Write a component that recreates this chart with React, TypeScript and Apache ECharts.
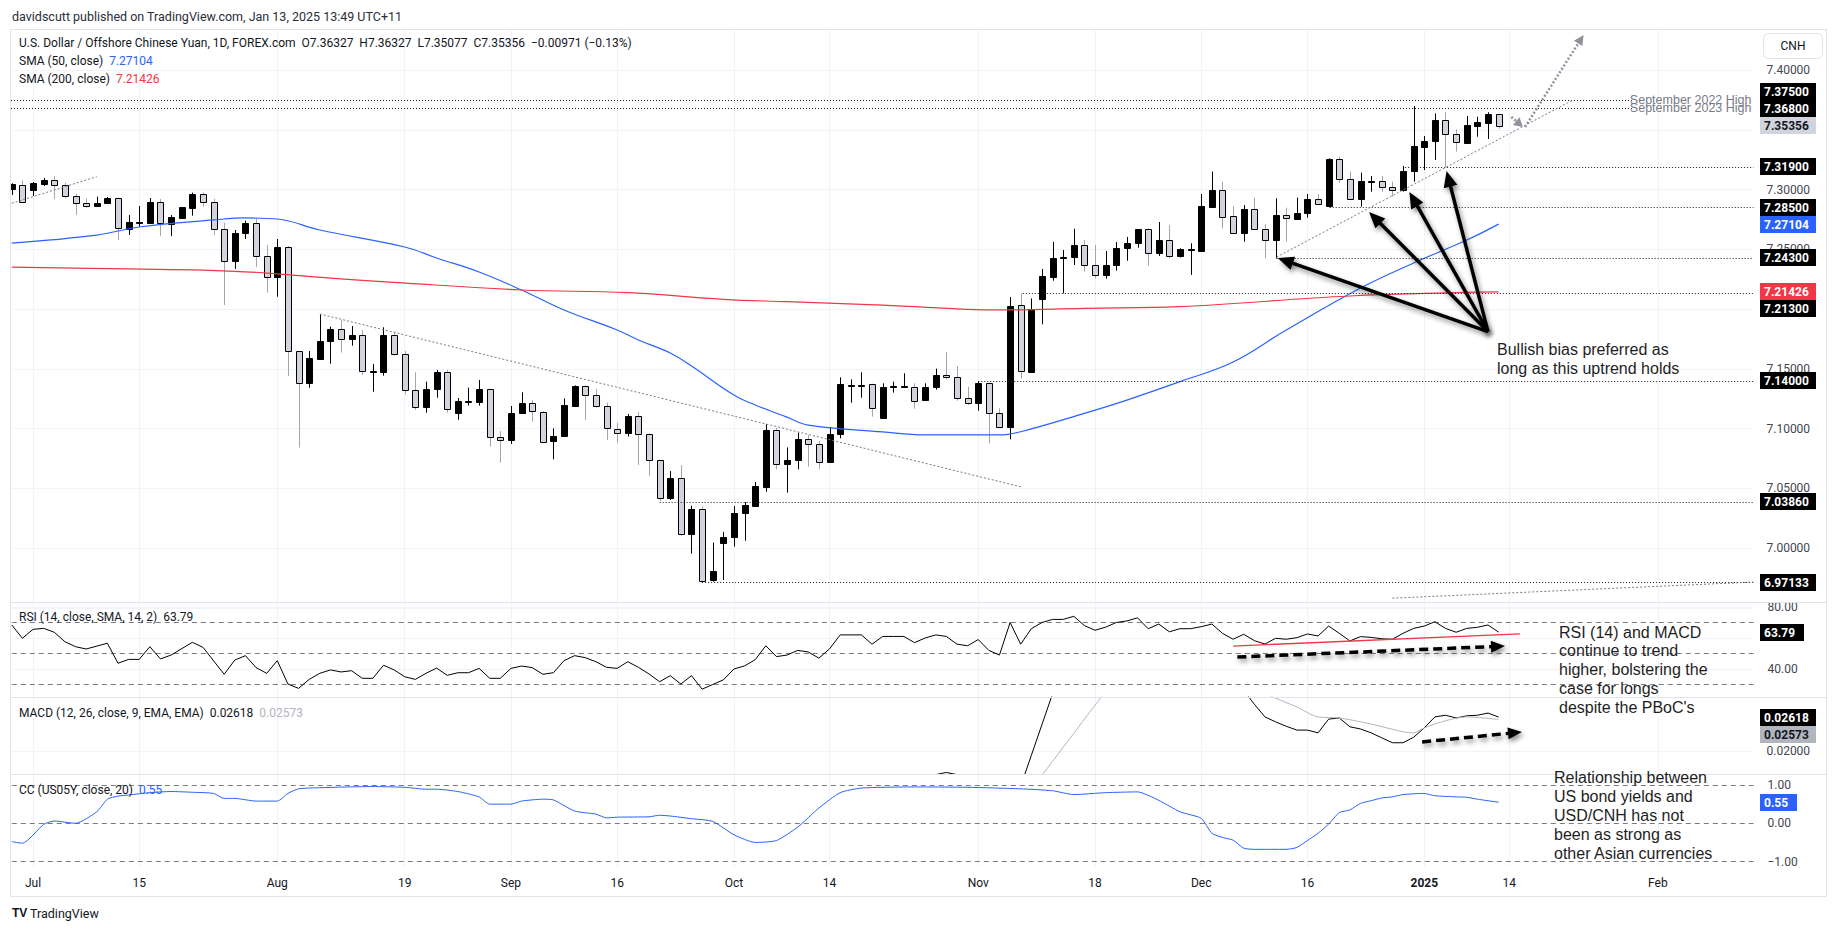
import React, { useEffect, useRef } from "react";
import * as echarts from "echarts";

// ---------- calendar / axis ----------
const HOLIDAYS = ["2024-12-25", "2025-01-01"];
const tickDates = ["2024-07-01","2024-07-15","2024-08-01","2024-08-19","2024-09-02","2024-09-16","2024-10-01","2024-10-14","2024-11-01","2024-11-18","2024-12-02","2024-12-16","2025-01-02","2025-01-14","2025-02-03"];
const tickLabels = ["Jul","15","Aug","19","Sep","16","Oct","14","Nov","18","Dec","16","2025","14","Feb"];

function tradingDays(): string[] {
  const out: string[] = [];
  const d = new Date(Date.UTC(2024, 5, 27));
  const end = new Date(Date.UTC(2025, 1, 14));
  while (d <= end) {
    const wd = d.getUTCDay();
    const s = d.toISOString().slice(0, 10);
    if (wd !== 0 && wd !== 6 && HOLIDAYS.indexOf(s) < 0) out.push(s);
    d.setUTCDate(d.getUTCDate() + 1);
  }
  return out;
}

// ---------- price data (USD/CNH daily) ----------
const open = [7.3001,7.3038,7.2999,7.3049,7.3077,7.3035,7.2943,7.2884,7.2857,7.2884,
7.2926,7.2672,7.2725,7.2722,7.2895,7.2714,7.2764,7.2848,7.2962,7.2893,
7.2667,7.2396,7.2631,7.2717,7.2441,7.2262,7.2516,7.1646,7.1378,7.1582,
7.1727,7.1830,7.1746,7.1780,7.1476,7.1470,7.1780,7.1621,7.1319,7.1174,
7.1328,7.1470,7.1124,7.1225,7.1216,7.1328,7.0926,7.0898,7.1127,7.1211,
7.1141,7.0893,7.0932,7.1191,7.1356,7.1278,7.1186,7.0999,7.0965,7.1105,
7.0951,7.0734,7.0416,7.0583,7.0114,7.0326,6.9727,7.0039,7.0086,7.0287,
7.0354,7.0513,7.0987,7.0700,7.0731,7.0909,7.0868,7.0717,7.0951,7.1361,
7.1361,7.1370,7.1091,7.1347,7.1347,7.1350,7.1233,7.1342,7.1445,7.1428,
7.1252,7.1208,7.1378,7.1127,7.1010,7.2031,7.1476,7.2087,7.2271,7.2427,
7.2432,7.2533,7.2365,7.2282,7.2365,7.2505,7.2550,7.2669,7.2466,7.2575,
7.2438,7.2497,7.2488,7.2856,7.2996,7.2775,7.2633,7.2837,7.2667,7.2577,
7.2784,7.2753,7.2801,7.2921,7.2865,7.3255,7.3085,7.2918,7.3068,7.3071,
7.3024,7.2996,7.3150,7.3358,7.3400,7.3579,7.3462,7.3392,7.3534,7.3559,
7.36327];
const close = [7.3043,7.2898,7.3054,7.3079,7.3035,7.2943,7.2884,7.2860,7.2884,7.2926,
7.2672,7.2728,7.2731,7.2895,7.2717,7.2770,7.2854,7.2962,7.2893,7.2664,
7.2399,7.2633,7.2717,7.2441,7.2265,7.2516,7.1646,7.1378,7.1587,7.1729,
7.1830,7.1746,7.1780,7.1478,7.1481,7.1780,7.1621,7.1319,7.1174,7.1328,
7.1470,7.1160,7.1227,7.1230,7.1328,7.0926,7.0901,7.1127,7.1211,7.1144,
7.0893,7.0934,7.1194,7.1356,7.1278,7.1186,7.0999,7.0968,7.1105,7.0951,
7.0734,7.0416,7.0586,7.0114,7.0326,6.9727,6.9805,7.0092,7.0290,7.0357,
7.0519,7.0987,7.0700,7.0736,7.0909,7.0868,7.0717,7.0954,7.1372,7.1367,
7.1367,7.1169,7.1350,7.1353,7.1353,7.1236,7.1345,7.1445,7.1428,7.1252,
7.1208,7.1378,7.1127,7.1010,7.2025,7.1478,7.2003,7.2276,7.2427,7.2432,
7.2533,7.2365,7.2282,7.2365,7.2510,7.2550,7.2669,7.2466,7.2575,7.2444,
7.2499,7.2502,7.2862,7.2996,7.2773,7.2633,7.2837,7.2667,7.2577,7.2787,
7.2756,7.2801,7.2921,7.2876,7.3255,7.3085,7.2918,7.3071,7.3074,7.3024,
7.3001,7.3152,7.3361,7.3406,7.3579,7.3462,7.3395,7.3540,7.3565,7.3632,
7.35356];
const low = [7.2954,7.2898,7.2946,7.3029,7.2921,7.2926,7.2787,7.2848,7.2857,7.2884,
7.2577,7.2619,7.2689,7.2722,7.2611,7.2611,7.2764,7.2781,7.2857,7.2619,
7.2033,7.2335,7.2586,7.2351,7.2137,7.2103,7.1439,7.0840,7.1342,7.1582,
7.1543,7.1635,7.1693,7.1448,7.1308,7.1442,7.1610,7.1286,7.1155,7.1132,
7.1258,7.1132,7.1074,7.1191,7.1191,7.0848,7.0714,7.0870,7.1127,7.1057,
7.0876,7.0742,7.0932,7.1183,7.1071,7.1174,7.0904,7.0881,7.0932,7.0695,
7.0603,7.0393,7.0402,7.0103,6.9953,6.9710,6.9718,6.9732,7.0011,7.0061,
7.0354,7.0471,7.0658,7.0463,7.0658,7.0681,7.0661,7.0717,7.0918,7.1216,
7.1258,7.1099,7.1082,7.1300,7.1345,7.1166,7.1233,7.1325,7.1411,7.1233,
7.1197,7.1149,7.0876,7.1010,7.0909,7.1417,7.1467,7.1872,7.2237,7.2131,
7.2368,7.2312,7.2254,7.2254,7.2321,7.2404,7.2513,7.2363,7.2444,7.2424,
7.2432,7.2285,7.2488,7.2851,7.2675,7.2633,7.2563,7.2667,7.2424,7.2424,
7.2563,7.2753,7.2764,7.2870,7.2851,7.3057,7.2918,7.2856,7.2982,7.2982,
7.2940,7.2982,7.3066,7.3163,7.3247,7.3186,7.3317,7.3392,7.3442,7.3423,
7.35077];
const high = [7.3052,7.3074,7.3063,7.3096,7.3113,7.3057,7.2962,7.2926,7.2940,7.2937,
7.2932,7.2787,7.2862,7.2929,7.2921,7.2787,7.2854,7.2974,7.2976,7.2921,
7.2722,7.2661,7.2739,7.2759,7.2536,7.2586,7.2527,7.1646,7.1649,7.1955,
7.1852,7.1908,7.1858,7.1824,7.1540,7.1847,7.1802,7.1649,7.1470,7.1392,
7.1490,7.1490,7.1255,7.1342,7.1406,7.1333,7.0979,7.1188,7.1303,7.1238,
7.1146,7.1001,7.1252,7.1361,7.1361,7.1331,7.1216,7.1049,7.1121,7.1138,
7.0960,7.0736,7.0644,7.0692,7.0354,7.0346,7.0045,7.0134,7.0351,7.0385,
7.0552,7.1035,7.1007,7.0842,7.0965,7.0946,7.0898,7.1010,7.1428,7.1411,
7.1470,7.1375,7.1378,7.1392,7.1462,7.1378,7.1378,7.1501,7.1640,7.1523,
7.1350,7.1397,7.1384,7.1169,7.2100,7.2131,7.2089,7.2335,7.2561,7.2494,
7.2672,7.2577,7.2536,7.2485,7.2561,7.2603,7.2669,7.2675,7.2728,7.2703,
7.2508,7.2550,7.2962,7.3150,7.3066,7.2862,7.2870,7.2932,7.2709,7.2926,
7.2848,7.2932,7.2962,7.2962,7.3261,7.3275,7.3150,7.3141,7.3113,7.3113,
7.3066,7.3197,7.3699,7.3448,7.3637,7.3646,7.3504,7.3615,7.3609,7.3646,
7.36327];

// moving averages, read at selected bars [barIndex, value]
const sma50 = [[0,7.2552],[8,7.2619],[12,7.2686],[19,7.2745],[22,7.2762],[25,7.2753],[29,7.2661],[37,7.2519],[40,7.2427],[44,7.2310],[48,7.2159],[52,7.1992],[57,7.1824],[59,7.1741],[62,7.1632],[64,7.1523],[68,7.1280],[70,7.1197],[73,7.1095],[75,7.1029],[82,7.0971],[86,7.0946],[93,7.0946],[95,7.0973],[101,7.1127],[105,7.1238],[110,7.1392],[115,7.1556],[120,7.1824],[127,7.2176],[132,7.2385],[137,7.2577],[140,7.27104]];
const sma200 = [[0,7.2351],[11,7.2335],[18,7.2326],[24,7.2301],[30,7.2259],[36,7.2223],[48,7.2159],[58,7.2137],[67,7.2081],[73,7.2061],[82,7.2033],[93,7.1992],[101,7.2006],[110,7.2020],[126,7.2109],[140,7.21426]];

// RSI (14)
const rsi = [[0,68.4],[1,59.8],[2,65.6],[3,66.2],[4,63.7],[5,57.6],[6,54.4],[7,52.9],[9,56.6],[10,43.7],[11,46.2],[12,46.2],[13,54.4],[14,46.5],[15,49.0],[17,57.2],[18,54.0],[20,36.6],[21,45.8],[22,48.6],[23,40.9],[24,37.2],[25,45.4],[26,30.3],[27,27.5],[28,33.3],[29,37.2],[30,39.4],[31,38.1],[32,38.9],[33,34.0],[34,34.0],[35,42.4],[36,39.4],[37,35.0],[38,33.3],[39,37.2],[40,40.6],[41,35.9],[42,37.6],[43,37.6],[44,40.4],[45,34.0],[46,34.0],[47,40.4],[48,41.9],[49,40.9],[50,36.6],[51,37.6],[52,45.4],[53,48.6],[54,47.3],[55,44.7],[56,41.1],[57,40.4],[58,44.7],[59,41.1],[60,36.8],[61,31.8],[62,35.7],[63,30.3],[64,35.7],
[65,27],[66,30],[67,33],[68,40],[69,42],[70,46],[71,55],[72,48],[73,49],[74,52],[75,51],[76,47],[77,53],[78,62],[79,62],[80,62],[81,56],[82,61],[83,61],[84,61],[85,57],[86,60],[87,62],[88,61],[89,56],[90,55],[91,59],[92,52],[93,49],[94,70],[95,56],[96,66],[97,70],[98,72],[99,72],[100,74],[101,68],[102,65],[103,67],[104,70],[105,71],[106,73],[107,66],[108,69],[109,64],[110,66],[111,66],
[112,67.3],[113,69.0],[114,63.0],[115,59.2],[116,62.4],[117,58.3],[118,56.1],[119,59.8],[120,59.2],[121,60.2],[122,62.6],[123,61.3],[124,67.7],[125,63.0],[126,58.1],[127,60.9],[128,60.4],[129,59.5],[130,59.2],[131,63.0],[132,66.2],[133,67.7],[134,70.5],[135,66.2],[136,63.7],[137,66.2],[138,66.9],[139,68.4],[140,63.79]];

// MACD (12, 26, 9) – only the parts inside the pane are drawn
const macd = [[86,0.0150],[87,0.0157],[88,0.0161],[89,0.0157],[90,0.0150],[91,"-"],[94,"-"],[95,0.0136],[96,0.0192],[97,0.0248],[98,0.0304],[99,"-"],[115,"-"],[116,0.0310],[117,0.0285],[118,0.0262],[119,0.0253],[120,0.0245],[121,0.0238],[122,0.0238],[123,0.0233],[124,0.0258],[125,0.0260],[126,0.0244],[127,0.0240],[128,0.0233],[129,0.0224],[130,0.0215],[131,0.0215],[132,0.0225],[133,0.0242],[134,0.0262],[135,0.0265],[136,0.0260],[137,0.0264],[138,0.0265],[139,0.0269],[140,0.02618]];
const macdSignal = [[96,0.0130],[97,0.0156],[98,0.0181],[99,0.0207],[100,0.0232],[101,0.0258],[102,0.0283],[103,0.0309],[104,"-"],[117,"-"],[118,0.0305],[119,0.0296],[121,0.0280],[123,0.0262],[125,0.0260],[128,0.0249],[131,0.0235],[132,0.0233],[133,0.0242],[135,0.0255],[137,0.0262],[140,0.02573]];

// Correlation coefficient with US05Y (20)
const cc = [[0,-0.48],[1,-0.52],[3,-0.03],[4,0.06],[6,0.0],[8,0.30],[9,0.63],[10,0.71],[11,0.74],[13,0.80],[15,0.83],[17,0.81],[19,0.78],[20,0.65],[21,0.65],[23,0.58],[25,0.58],[26,0.78],[27,0.90],[29,0.93],[34,0.96],[37,0.94],[39,0.89],[40,0.89],[42,0.83],[44,0.69],[45,0.50],[47,0.50],[48,0.58],[50,0.63],[51,0.61],[53,0.32],[55,0.24],[56,0.14],[57,0.16],[60,0.17],[61,0.21],[62,0.19],[64,0.12],[66,0.05],[68,-0.30],[70,-0.50],[72,-0.45],[74,-0.10],[76,0.40],[78,0.80],[80,0.92],[85,0.95],[90,0.94],[95,0.90],[98,0.85],[100,0.75],[103,0.80],[106,0.82],[108,0.60],[110,0.30],[112,0.13],[113,-0.26],[114,-0.37],[115,-0.44],[116,-0.65],[117,-0.68],[120,-0.68],[121,-0.63],[122,-0.45],[123,-0.26],[124,-0.02],[125,0.28],[126,0.35],[127,0.52],[128,0.59],[129,0.66],[130,0.69],[131,0.75],[133,0.78],[134,0.72],[136,0.69],[137,0.68],[138,0.63],[140,0.55]];

// ---------- drawings ----------
const levels = [
  { v: 7.375, from: -0.5, to: 152.7 },
  { v: 7.368, from: -0.5, to: 152.7 },
  { v: 7.319, from: 131.2, to: 164 },
  { v: 7.285, from: 124.1, to: 164 },
  { v: 7.243, from: 119.1, to: 164 },
  { v: 7.213, from: 95.2, to: 164 },
  { v: 7.14, from: 91.0, to: 164 },
  { v: 7.0386, from: 61.0, to: 164 },
  { v: 6.97133, from: 65.0, to: 164 },
];
const trendLines = [
  [0.0, 7.2885, 8.0, 7.3107],
  [29.0, 7.1958, 95.1, 7.0510],
  [119.1, 7.2435, 147.0, 7.3749],
  [130.0, 6.9580, 164.0, 6.9715],
];
const bullArrowTail = [139.0, 7.1811];
const bullArrowHeads = [[119.2, 7.2427], [127.8, 7.2812], [131.6, 7.2979], [135.1, 7.3155]];
const projection = [[141.2, 7.3607], [142.3, 7.3523], [148.0, 7.4293]];
const rsiRedLine = [[115.0, 54.8], [142.0, 62.6]];
const rsiArrow = [[115.4, 47.7], [140.6, 54.8]];
const macdArrow = [[132.8, 0.021636], [142.2, 0.023455]];

const priceTags = [
  { pane: 0, v: 7.35356, t: "7.35356", bg: "#d1d4dc", fg: "#131722" },
  { pane: 0, v: 7.368, t: "7.36800", bg: "#000000", fg: "#ffffff" },
  { pane: 0, v: 7.375, t: "7.37500", bg: "#000000", fg: "#ffffff" },
  { pane: 0, v: 7.319, t: "7.31900", bg: "#000000", fg: "#ffffff" },
  { pane: 0, v: 7.285, t: "7.28500", bg: "#000000", fg: "#ffffff" },
  { pane: 0, v: 7.27104, t: "7.27104", bg: "#2962ff", fg: "#ffffff" },
  { pane: 0, v: 7.243, t: "7.24300", bg: "#000000", fg: "#ffffff" },
  { pane: 0, v: 7.21426, t: "7.21426", bg: "#f23645", fg: "#ffffff" },
  { pane: 0, v: 7.213, t: "7.21300", bg: "#000000", fg: "#ffffff" },
  { pane: 0, v: 7.14, t: "7.14000", bg: "#000000", fg: "#ffffff" },
  { pane: 0, v: 7.0386, t: "7.03860", bg: "#000000", fg: "#ffffff" },
  { pane: 0, v: 6.97133, t: "6.97133", bg: "#000000", fg: "#ffffff" },
  { pane: 1, v: 63.79, t: "63.79", bg: "#000000", fg: "#ffffff" },
  { pane: 2, v: 0.02618, t: "0.02618", bg: "#000000", fg: "#ffffff" },
  { pane: 2, v: 0.02573, t: "0.02573", bg: "#b2b5be", fg: "#131722" },
  { pane: 3, v: 0.55, t: "0.55", bg: "#2962ff", fg: "#ffffff" },
];

const UI = "Roboto, 'Liberation Sans', sans-serif";
const NOTE = "'Liberation Sans', Arial, sans-serif";

const L = 11.8, BAR = 10.62;
const panes = [
  { top: 29, height: 578.75 },
  { top: 602, height: 95 },
  { top: 697, height: 77 },
  { top: 774, height: 93 },
];

function buildOption() {
  const days = tradingDays();
  const tickSet: Record<string, string> = {};
  tickDates.forEach((d, i) => (tickSet[d] = tickLabels[i]));
  const isTick = (_i: number, v: string) => tickSet[v] !== undefined;
  const candles = close.map((c, i) => [i, open[i], c, low[i], high[i]]);

  const grid = panes.map((p) => ({ left: L, width: BAR * (days.length - 1), top: p.top, height: p.height }));
  const xAxis = panes.map((_p, k) => ({
    type: "category", gridIndex: k, data: days, boundaryGap: false,
    axisLine: { show: false }, axisTick: { show: false },
    axisLabel: {
      show: k === 3, interval: isTick, margin: 10, color: "#131722", fontSize: 12, fontFamily: UI,
      formatter: (v: string) => (tickSet[v] === "2025" ? "{b|2025}" : tickSet[v] || ""),
      rich: { b: { fontWeight: "bold", fontSize: 12, fontFamily: UI, color: "#131722" } },
    },
    splitLine: { show: true, interval: isTick, lineStyle: { color: "#f0f3fa", width: 1 } },
  }));
  const yBase = {
    position: "right", axisLine: { show: false }, axisTick: { show: false },
  };
  const yAxis = [
    { ...yBase, type: "value", gridIndex: 0, min: 6.95, max: 7.43431, interval: 0.05,
      axisLabel: { margin: 13, color: "#434651", fontSize: 12, fontFamily: UI, showMinLabel: false, showMaxLabel: false, formatter: (v: number) => v.toFixed(5) },
      splitLine: { show: true, lineStyle: { color: "#f0f3fa" } } },
    { ...yBase, type: "value", gridIndex: 1, min: 21.935, max: 83.226,
      axisLabel: { margin: 14, color: "#434651", fontSize: 12, fontFamily: UI, customValues: [40, 80], formatter: (v: number) => v.toFixed(2) },
      splitLine: { show: false } },
    { ...yBase, type: "value", gridIndex: 2, min: 0.015818, max: 0.029818,
      axisLabel: { margin: 13, color: "#434651", fontSize: 12, fontFamily: UI, customValues: [0.02], formatter: (v: number) => v.toFixed(5) },
      splitLine: { show: false } },
    { ...yBase, type: "value", gridIndex: 3, min: -1.141, max: 1.2872,
      axisLabel: { margin: 14, color: "#434651", fontSize: 12, fontFamily: UI, customValues: [1, 0, -1], formatter: (v: number) => (v < 0 ? "\u2212" + Math.abs(v).toFixed(2) : v.toFixed(2)) },
      splitLine: { show: false } },
  ];

  const dashed = (v: number) => ({ yAxis: v, lineStyle: { type: [5, 4], color: "#787b86", width: 1 } });
  const gridLn = (v: number) => ({ yAxis: v, lineStyle: { type: "solid", color: "#f0f3fa", width: 1 } });
  const ml = (data: any[]) => ({ silent: true, symbol: "none", label: { show: false }, z: 1, animation: false, data });

  return {
    animation: false,
    backgroundColor: "#ffffff",
    grid, xAxis, yAxis,
    series: [
      {
        type: "custom", name: "USDCNH", xAxisIndex: 0, yAxisIndex: 0, clip: true,
        data: candles, encode: { x: 0, y: [1, 2, 3, 4] },
        renderItem: (_params: any, api: any) => {
          const i = api.value(0), o = api.value(1), c = api.value(2), lo = api.value(3), hi = api.value(4);
          const pO = api.coord([i, o]), pC = api.coord([i, c]), pL = api.coord([i, lo]), pH = api.coord([i, hi]);
          const band = api.size([1, 0])[0];
          const bw = Math.max(3, Math.round(band * 0.57));
          const up = c >= o;
          const cx = Math.round(pO[0]);
          const top = Math.min(pO[1], pC[1]);
          const h = Math.max(1, Math.abs(pO[1] - pC[1]));
          return {
            type: "group",
            children: [
              { type: "line", shape: { x1: cx + 0.5, y1: pH[1], x2: cx + 0.5, y2: pL[1] }, style: { stroke: up ? "#000000" : "#a3a6af", lineWidth: 1 } },
              { type: "rect", shape: { x: cx - bw / 2 + 0.5, y: Math.round(top) + 0.5, width: bw, height: Math.round(h) }, style: { fill: up ? "#000000" : "#d1d4dc", stroke: "#000000", lineWidth: 1 } },
            ],
          };
        },
        z: 2,
      },
      { type: "line", name: "SMA50", xAxisIndex: 0, yAxisIndex: 0, data: sma50, smooth: 0.4, showSymbol: false, symbol: "none", lineStyle: { color: "#2962ff", width: 1.2 }, z: 3 },
      { type: "line", name: "SMA200", xAxisIndex: 0, yAxisIndex: 0, data: sma200, smooth: 0.4, showSymbol: false, symbol: "none", lineStyle: { color: "#f23645", width: 1.2 }, z: 3 },
      { type: "line", name: "RSI", xAxisIndex: 1, yAxisIndex: 1, data: rsi, showSymbol: false, symbol: "none", lineStyle: { color: "#000000", width: 1 }, z: 3,
        markLine: ml([gridLn(40), gridLn(60), gridLn(80), dashed(70), dashed(50), dashed(30)]) },
      { type: "line", name: "MACD", xAxisIndex: 2, yAxisIndex: 2, data: macd, showSymbol: false, symbol: "none", lineStyle: { color: "#000000", width: 1 }, z: 3,
        markLine: ml([gridLn(0.02)]) },
      { type: "line", name: "Signal", xAxisIndex: 2, yAxisIndex: 2, data: macdSignal, smooth: 0.3, showSymbol: false, symbol: "none", lineStyle: { color: "#b2b5be", width: 1 }, z: 3 },
      { type: "line", name: "CC", xAxisIndex: 3, yAxisIndex: 3, data: cc, smooth: 0.2, showSymbol: false, symbol: "none", lineStyle: { color: "#2962ff", width: 1 }, z: 3,
        markLine: ml([dashed(1), dashed(0), dashed(-1)]) },
    ],
  };
}

function txt(text: string, x: number, y: number, o: any = {}) {
  return {
    type: "text", silent: true, z: o.z || 60,
    style: {
      text, x, y, fill: o.fill || "#131722", fontSize: o.size || 12, fontFamily: o.family || UI,
      fontWeight: o.weight || "normal", textAlign: o.align || "left", textVerticalAlign: "middle",
      align: o.align || "left", verticalAlign: "middle", rich: o.rich,
    },
  };
}

function arrowEls(x1: number, y1: number, x2: number, y2: number, o: any) {
  const dx = x2 - x1, dy = y2 - y1, len = Math.hypot(dx, dy);
  const ux = dx / len, uy = dy / len;
  const bx = x2 - ux * o.head, by = y2 - uy * o.head;
  const nx = -uy, ny = ux;
  const sh = o.shadow ? { shadowBlur: 5, shadowColor: "rgba(0,0,0,0.45)", shadowOffsetX: 2, shadowOffsetY: 3 } : {};
  const lineStyle: any = { stroke: o.color, lineWidth: o.width, ...sh };
  if (o.dash) lineStyle.lineDash = o.dash;
  return [
    { type: "line", silent: true, z: 55, shape: { x1, y1, x2: bx + ux * 2, y2: by + uy * 2 }, style: lineStyle },
    { type: "polygon", silent: true, z: 55, shape: { points: [[x2, y2], [bx + nx * o.hw, by + ny * o.hw], [bx - nx * o.hw, by - ny * o.hw]] }, style: { fill: o.color, ...sh } },
  ];
}

function buildGraphics(chart: any) {
  const x0 = chart.convertToPixel({ xAxisIndex: 0 }, 0);
  const x1 = chart.convertToPixel({ xAxisIndex: 0 }, 1);
  const X = (i: number) => x0 + (x1 - x0) * i;
  const Y = (pane: number, v: number) => chart.convertToPixel({ yAxisIndex: pane }, v);
  const right = X(164);
  const g: any[] = [];

  // frame and pane separators
  g.push({ type: "rect", silent: true, z: 40, shape: { x: 10.5, y: 29.5, width: 1816, height: 867 }, style: { fill: "none", stroke: "#e0e3eb", lineWidth: 1 } });
  g.push({ type: "rect", silent: true, z: 39, shape: { x: 0, y: 29, width: 10, height: 870 }, style: { fill: "#ffffff" } });
  [602, 697, 774].forEach((y) => g.push({ type: "line", silent: true, z: 40, shape: { x1: 11, y1: y + 0.5, x2: 1826, y2: y + 0.5 }, style: { stroke: "#e0e3eb", lineWidth: 1 } }));

  // horizontal levels
  levels.forEach((l) => {
    const y = Math.round(Y(0, l.v)) + 0.5;
    g.push({ type: "line", silent: true, z: 45, shape: { x1: Math.max(11, X(l.from)), y1: y, x2: X(l.to), y2: y }, style: { stroke: "#131722", lineWidth: 1, lineDash: [1, 2] } });
  });
  g.push(txt("September 2022 High", right - 2, Y(0, 7.375), { fill: "#787b86", size: 12.5, align: "right", family: NOTE }));
  g.push(txt("September 2023 High", right - 2, Y(0, 7.368), { fill: "#787b86", size: 12.5, align: "right", family: NOTE }));

  // trend lines
  trendLines.forEach((t) => {
    g.push({ type: "line", silent: true, z: 45, shape: { x1: X(t[0]), y1: Y(0, t[1]), x2: X(t[2]), y2: Y(0, t[3]) }, style: { stroke: "#787b86", lineWidth: 1, lineDash: [2, 2] } });
  });

  // projection arrows (grey dotted)
  const p0 = projection[0], p1 = projection[1], p2 = projection[2];
  g.push(...arrowEls(X(p0[0]), Y(0, p0[1]), X(p1[0]), Y(0, p1[1]), { color: "#8f929b", width: 2.5, dash: [2, 2], head: 9, hw: 5 }));
  g.push(...arrowEls(X(p1[0]) + 2, Y(0, p1[1]), X(p2[0]), Y(0, p2[1]), { color: "#8f929b", width: 2.5, dash: [2, 2], head: 10, hw: 5 }));

  // bullish arrows
  bullArrowHeads.forEach((h) => {
    g.push(...arrowEls(X(bullArrowTail[0]), Y(0, bullArrowTail[1]), X(h[0]), Y(0, h[1]), { color: "#000000", width: 3.5, head: 16, hw: 7, shadow: true }));
  });
  g.push(txt("Bullish bias preferred as", 1497, 349, { size: 16, family: NOTE, fill: "#1e1e1e" }));
  g.push(txt("long as this uptrend holds", 1497, 368, { size: 16, family: NOTE, fill: "#1e1e1e" }));

  // RSI / MACD drawings
  g.push({ type: "line", silent: true, z: 50, shape: { x1: X(rsiRedLine[0][0]), y1: Y(1, rsiRedLine[0][1]), x2: X(rsiRedLine[1][0]), y2: Y(1, rsiRedLine[1][1]) }, style: { stroke: "#f23645", lineWidth: 1.3 } });
  g.push(...arrowEls(X(rsiArrow[0][0]), Y(1, rsiArrow[0][1]), X(rsiArrow[1][0]), Y(1, rsiArrow[1][1]), { color: "#000000", width: 3.5, dash: [9, 5], head: 14, hw: 6, shadow: true }));
  g.push(...arrowEls(X(macdArrow[0][0]), Y(2, macdArrow[0][1]), X(macdArrow[1][0]), Y(2, macdArrow[1][1]), { color: "#000000", width: 3.5, dash: [9, 5], head: 14, hw: 6, shadow: true }));

  const noteA = ["RSI (14) and MACD", "continue to trend", "higher, bolstering the", "case for longs", "despite the PBoC's"];
  noteA.forEach((s, i) => g.push(txt(s, 1559, 632 + i * 18.8, { size: 16, family: NOTE, fill: "#1e1e1e" })));
  const noteB = ["Relationship between", "US bond yields and", "USD/CNH has not", "been as strong as", "other Asian currencies"];
  noteB.forEach((s, i) => g.push(txt(s, 1554, 777 + i * 19.2, { size: 16, family: NOTE, fill: "#1e1e1e" })));

  // legends
  g.push(txt("davidscutt published on TradingView.com, Jan 13, 2025 13:49 UTC+11", 12, 16, { size: 12.5, fill: "#2a2e39" }));
  g.push(txt("U.S. Dollar / Offshore Chinese Yuan, 1D, FOREX.com  O7.36327  H7.36327  L7.35077  C7.35356  \u22120.00971 (\u22120.13%)", 19, 43, { size: 12 }));
  g.push(txt("SMA (50, close)  {b|7.27104}", 19, 61, { size: 12, rich: { b: { fill: "#2962ff", fontSize: 12, fontFamily: UI } } }));
  g.push(txt("SMA (200, close)  {r|7.21426}", 19, 79, { size: 12, rich: { r: { fill: "#f23645", fontSize: 12, fontFamily: UI } } }));
  g.push(txt("RSI (14, close, SMA, 14, 2)  63.79", 19, 617, { size: 12 }));
  g.push(txt("MACD (12, 26, close, 9, EMA, EMA)  0.02618  {g|0.02573}", 19, 713, { size: 12, rich: { g: { fill: "#b2b5be", fontSize: 12, fontFamily: UI } } }));
  g.push(txt("CC (US05Y, close, 20)  {b|0.55}", 19, 790, { size: 12, rich: { b: { fill: "#2962ff", fontSize: 12, fontFamily: UI } } }));

  // currency button
  g.push({ type: "rect", silent: true, z: 60, shape: { x: 1763.5, y: 33.5, width: 59, height: 25, r: 5 }, style: { fill: "#ffffff", stroke: "#e0e3eb", lineWidth: 1 } });
  g.push(txt("CNH", 1793, 46, { size: 12, align: "center", z: 61 }));

  // price tags with simple collision handling
  const placed: any[] = [];
  priceTags.forEach((t) => {
    let y = Y(t.pane, t.v);
    for (let k = 0; k < 6; k++) {
      const hit = placed.find((p) => p.pane === t.pane && Math.abs(p.y - y) < 17);
      if (!hit) break;
      y = t.v > hit.v ? hit.y - 17 : hit.y + 17;
    }
    placed.push({ pane: t.pane, v: t.v, y });
    const w = t.t.length <= 4 ? 37 : t.t.length === 5 ? 44 : 56;
    g.push({ type: "rect", silent: true, z: 70, shape: { x: 1760, y: Math.round(y - 8.5), width: w, height: 17 }, style: { fill: t.bg } });
    g.push(txt(t.t, 1760 + 4, Math.round(y - 8.5) + 9, { size: 12, weight: "bold", fill: t.fg, z: 71 }));
  });

  // footer
  g.push(txt("TV", 12, 913, { size: 12, weight: "bold", fill: "#131722", family: NOTE }));
  g.push(txt("TradingView", 30, 913, { size: 12.5, fill: "#131722" }));
  return g;
}

export default function App() {
  const ref = useRef<HTMLDivElement>(null);
  useEffect(() => {
    document.body.style.margin = "0";
    const chart = echarts.init(ref.current as HTMLDivElement, null, { renderer: "svg" });
    chart.setOption(buildOption() as any);
    chart.setOption({ graphic: buildGraphics(chart) } as any);
    return () => chart.dispose();
  }, []);
  return <div ref={ref} style={{ position: "absolute", left: 0, top: 0, width: 1837, height: 933, background: "#ffffff" }} />;
}
